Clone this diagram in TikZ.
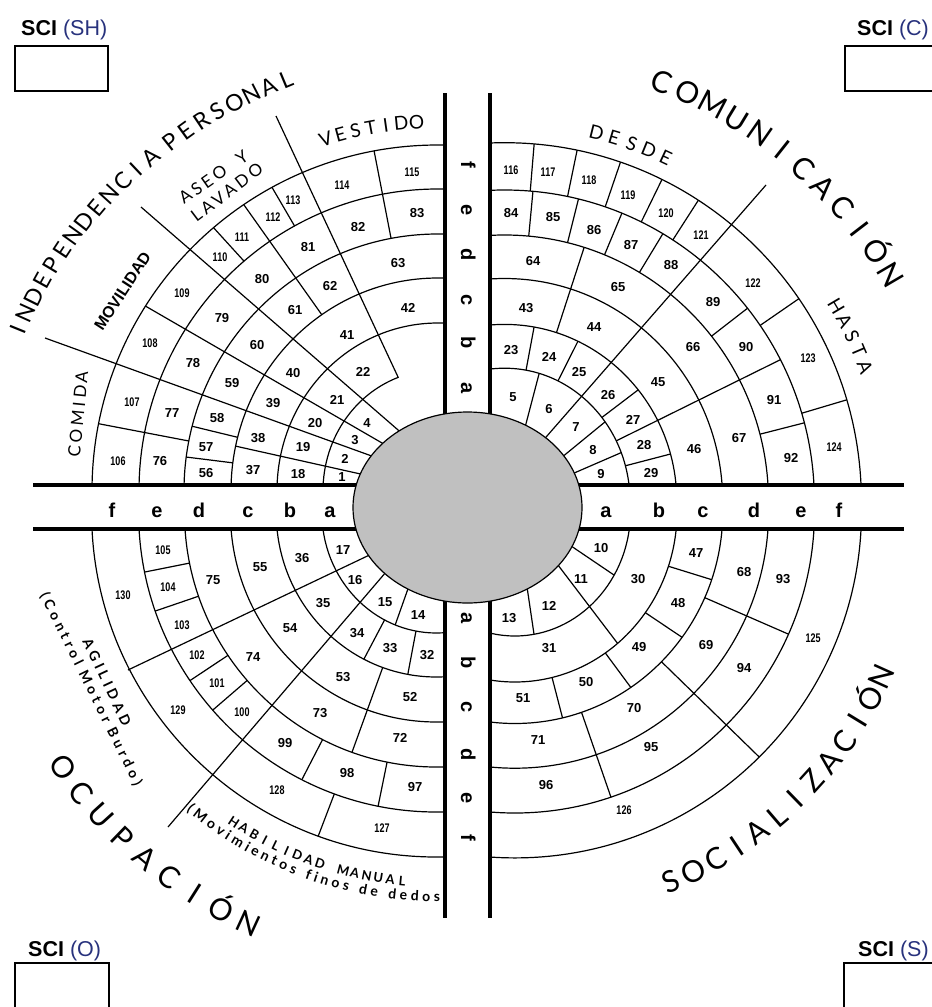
\documentclass[tikz,border=0pt]{standalone}
\usepackage{fontspec}
\usepackage{graphicx}
\setmainfont{Liberation Sans}
\newfontfamily\hfont{Lato}
\newfontfamily\hsp[LetterSpace=20]{Lato}
\newfontfamily\hspb[LetterSpace=30]{Lato}
\usetikzlibrary{decorations.text}
\definecolor{eg}{RGB}{192,192,192}
\definecolor{sciblue}{RGB}{40,50,125}

\newcommand\defarr[2]{%
 \foreach \v [count=\j from 0] in {#2} {\expandafter\xdef\csname #1\j\endcsname{\v}}}

% quadrant centres (image px, y down) and ring radii (index 0 = inner helper)
\def\QXUL{437.9}\def\QYUL{490.9}
\defarr{AXUL}{82,114.9,160.9,206.9,253.9,298.9,345.9}
\defarr{AYUL}{88,121,167.9,212.9,256.9,301.9,345.9}
\def\QXUR{504.5}\def\QYUR{501.6}
\defarr{AXUR}{80,125.5,172.3,218.2,264,309.9,356.9}
\defarr{AYUR}{87,133.4,177.2,223.1,266.6,311.6,358.9}
\def\QXLL{436.4}\def\QYLL{512.3}
\defarr{AXLL}{82,114.5,160.2,206,251.9,297.8,344.8}
\defarr{AYLL}{88,120.7,164.7,209.7,254.7,299.7,344.7}
\def\QXLR{514.9}\def\QYLR{511}
\defarr{AXLR}{68,115.6,162.2,207.9,253.7,299.6,346.6}
\defarr{AYLR}{77,125,171,212.5,257.2,302,346.9}

% divider: quadrant, px x, px y (a point on it), inner ring, outer ring
\newcommand\dv[5]{%
 \edef\rxa{\csname AX#1#4\endcsname}\edef\rya{\csname AY#1#4\endcsname}%
 \edef\rxb{\csname AX#1#5\endcsname}\edef\ryb{\csname AY#1#5\endcsname}%
 \edef\cqx{\csname QX#1\endcsname}\edef\cqy{\csname QY#1\endcsname}%
 \pgfmathsetmacro\dvT{atan2((\cqy-(#3))/((\rya+\ryb)/2),((#2)-\cqx)/((\rxa+\rxb)/2))}%
 \ifnum#4=0 \def\rxa{45}\def\rya{45}\fi
 \pgfmathsetmacro\dvXa{\cqx+\rxa*cos(\dvT)}%
 \pgfmathsetmacro\dvYa{-\cqy+\rya*sin(\dvT)}%
 \pgfmathsetmacro\dvXb{\cqx+\rxb*cos(\dvT)}%
 \pgfmathsetmacro\dvYb{-\cqy+\ryb*sin(\dvT)}%
 \draw[ln] (\dvXa,\dvYa) -- (\dvXb,\dvYb);%
}

\newcommand\rings[2]{%
 \edef\cqx{\csname QX#1\endcsname}\edef\cqy{\csname QY#1\endcsname}%
 \foreach \k in {#2,...,6} {%
  \edef\rgX{\csname AX#1\k\endcsname}%
  \edef\rgY{\csname AY#1\k\endcsname}%
  \draw[ln] (\cqx,-\cqy) ellipse [x radius=\rgX, y radius=\rgY];%
 }}

% letters on an arc: cx, cy (px), a, b, start angle, step, rotation offset, style, list
\newcommand\arcl[9]{%
 \foreach \ch [count=\i from 0] in {#9} {%
  \pgfmathsetmacro\alT{#5+\i*(#6)}%
  \pgfmathsetmacro\alR{\alT+(#7)}%
  \pgfmathsetmacro\alX{#1+#3*cos(\alT)}%
  \pgfmathsetmacro\alY{-#2+#4*sin(\alT)}%
  \node[#8, rotate=\alR] (#8\i) at (\alX,\alY) {\ch};%
 }}

\newcommand\nm[3]{\node[n2] (n#3) at (#1,-#2) {#3};}
\newcommand\nmm[3]{\node[n3] (n#3) at (#1,-#2) {\scalebox{0.72}[1]{#3}};}

\begin{document}
\begin{tikzpicture}[x=1pt,y=1pt,
 ln/.style={line width=1.2pt},
 band/.style={line width=3.2pt},
 bx/.style={line width=1.5pt},
 n2/.style={font=\bfseries\fontsize{13}{13}\selectfont, inner sep=0},
 n3/.style={font=\bfseries\fontsize{12.5}{12.5}\selectfont, inner sep=0},
 bl/.style={font=\bfseries\fontsize{20}{20}\selectfont, inner sep=0, anchor=base},
 blv/.style={bl, rotate=-90},
 sci/.style={anchor=base west, inner sep=0, font=\fontsize{21.5}{21.5}\selectfont},
 Tbig/.style={font=\hfont\fontsize{30}{30}\selectfont, inner sep=0, text height=21.5pt, text depth=0pt},
 Tind/.style={font=\hfont\fontsize{23}{23}\selectfont, inner sep=0, text height=16.5pt, text depth=0pt},
 Tsm/.style={font=\hfont\fontsize{19}{19}\selectfont, inner sep=0, text height=13.7pt, text depth=0pt},
 Thab/.style={font=\hfont\bfseries\fontsize{13}{13}\selectfont, inner sep=0, text height=9.4pt, text depth=0pt},
 lab/.style={inner sep=0}]
\useasboundingbox (0,0) rectangle (932,-1007);
\clip (0,0) rectangle (932,-1007);
\fill[white] (0,0) rectangle (932,-1007);

% ---------- ring arcs ----------
\begin{scope}
 \clip (0,0) rectangle (445,-485);
 \rings{UL}{2}
 \draw[ln] ({437.9+114.9*cos(110.2)},{-490.9+121*sin(110.2)}) arc[start angle=110.2, end angle=185, x radius=114.9, y radius=121];
\end{scope}
\begin{scope}
 \clip (490,0) rectangle (932,-485);
 \rings{UR}{1}
\end{scope}
\begin{scope}
 \clip (0,-529) rectangle (445,-1007);
 \rings{LL}{1}
\end{scope}
\begin{scope}
 \clip (490,-529) rectangle (932,-1007);
 \rings{LR}{1}
\end{scope}

% ---------- dividers: upper left ----------
\dv{UL}{300}{460}{0}{3}
\dv{UL}{210}{460}{3}{4}
\dv{UL}{212}{431}{3}{4}
\dv{UL}{285}{263}{3}{6}
\dv{UL}{142}{432}{4}{6}
\dv{UL}{383}{197}{4}{6}
\dv{UL}{231}{247}{5}{6}
\dv{UL}{284}{208}{5}{6}
\draw[ln] (380,-459) -- (45,-338);
\draw[ln] (390,-447.6) -- (145.5,-306.1);
\draw[ln] (405,-436) -- (141,-207);
\draw[ln] (276,-116) -- (398.4,-377.8);

% ---------- dividers: upper right ----------
\dv{UR}{532}{399}{0}{1}
\dv{UR}{584}{438}{0}{1}
\dv{UR}{598}{462}{0}{1}
\dv{UR}{530}{349}{1}{2}
\dv{UR}{568}{361}{1}{2}
\dv{UR}{622}{402}{1}{2}
\dv{UR}{651}{459}{1}{2}
\dv{UR}{695}{402}{1}{5}
\dv{UR}{570}{291}{2}{4}
\dv{UR}{531}{212}{4}{5}
\dv{UR}{572}{225}{4}{5}
\dv{UR}{612}{237}{4}{5}
\dv{UR}{650}{255}{4}{5}
\dv{UR}{731}{321}{4}{5}
\dv{UR}{784}{428}{4}{5}
\dv{UR}{532}{170}{5}{6}
\dv{UR}{572}{175}{5}{6}
\dv{UR}{612}{187}{5}{6}
\dv{UR}{651}{202}{5}{6}
\dv{UR}{685}{221}{5}{6}
\dv{UR}{781}{311}{5}{6}
\dv{UR}{826}{406}{5}{6}
\draw[ln] (540,-444) -- (766,-185);

% ---------- dividers: lower right ----------
\dv{LR}{594}{563}{0}{1}
\dv{LR}{530}{610}{0}{1}
\dv{LR}{587}{606}{0}{2}
\dv{LR}{693}{574}{2}{3}
\dv{LR}{665}{626}{2}{3}
\dv{LR}{616}{667}{2}{3}
\dv{LR}{556}{692}{2}{3}
\dv{LR}{749}{617}{3}{5}
\dv{LR}{708}{707}{3}{6}
\dv{LR}{595}{751}{3}{5}

% ---------- dividers: lower left ----------
\dv{LL}{402}{607}{0}{1}
\dv{LL}{412}{652}{1}{2}
\dv{LL}{374}{640}{1}{2}
\dv{LL}{368}{708}{2}{4}
\dv{LL}{383}{782}{4}{5}
\dv{LL}{310}{764}{4}{5}
\dv{LL}{228}{697}{4}{5}
\dv{LL}{206}{670}{4}{5}
\dv{LL}{173}{605}{4}{5}
\dv{LL}{165}{568}{4}{5}
\dv{LL}{327}{813}{5}{6}
\draw[ln] (392,-565) -- (168,-827);
\draw[ln] (380,-550) -- (128,-670);

% ---------- bands ----------
\draw[band] (33,-485) -- (420,-485);
\draw[band] (520,-485) -- (904,-485);
\draw[band] (33,-529) -- (420,-529);
\draw[band] (520,-529) -- (904,-529);
\draw[band] (445,-93) -- (445,-460);
\draw[band] (445,-560) -- (445,-918);
\draw[band] (490,-93) -- (490,-460);
\draw[band] (490,-560) -- (490,-918);

% ---------- centre ----------
\draw[ln, fill=eg] (467.5,-507.5) ellipse [x radius=114.5, y radius=95.5];

% ---------- band letters ----------
\node[bl] (hlf) at (112,-517) {f};
\node[bl] (hle) at (157,-517) {e};
\node[bl] (hld) at (199,-517) {d};
\node[bl] (hlc) at (248,-517) {c};
\node[bl] (hlb) at (290,-517) {b};
\node[bl] (hla) at (330,-517) {a};
\node[bl] (hra) at (606,-517) {a};
\node[bl] (hrb) at (659,-517) {b};
\node[bl] (hrc) at (703,-517) {c};
\node[bl] (hrd) at (754,-517) {d};
\node[bl] (hre) at (801,-517) {e};
\node[bl] (hrf) at (839,-517) {f};
\node[blv] (vuf) at (461,-165) {f};
\node[blv] (vue) at (461,-210) {e};
\node[blv] (vud) at (461,-255) {d};
\node[blv] (vuc) at (461,-300) {c};
\node[blv] (vub) at (461,-343) {b};
\node[blv] (vua) at (461,-388) {a};
\node[blv] (vla) at (461,-618) {a};
\node[blv] (vlb) at (461,-663) {b};
\node[blv] (vlc) at (461,-707) {c};
\node[blv] (vld) at (461,-755) {d};
\node[blv] (vle) at (461,-798) {e};
\node[blv] (vlf) at (461,-838) {f};

% ---------- numbers UL ----------
\nm{342}{477}{1} \nm{345}{459}{2} \nm{355}{440}{3} \nm{367}{423}{4}
\nm{298}{474}{18} \nm{303}{447}{19} \nm{315}{423}{20} \nm{337}{400}{21} \nm{363}{372}{22}
\nm{253}{470}{37} \nm{258}{438}{38} \nm{273}{403}{39} \nm{293}{373}{40} \nm{347}{335}{41} \nm{408}{308}{42}
\nm{206}{473}{56} \nm{206}{447}{57} \nm{217}{418}{58} \nm{232}{383}{59} \nm{257}{345}{60} \nm{295}{310}{61} \nm{330}{286}{62} \nm{398}{263}{63}
\nm{160}{461}{76} \nm{172}{413}{77} \nm{193}{363}{78} \nm{222}{318}{79} \nm{262}{279}{80} \nm{308}{247}{81} \nm{358}{227}{82} \nm{417}{213}{83}
\nmm{118}{461}{106} \nmm{132}{402}{107} \nmm{150}{343}{108} \nmm{182}{293}{109} \nmm{220}{257}{110} \nmm{242}{237}{111} \nmm{273}{217}{112} \nmm{293}{200}{113} \nmm{342}{185}{114} \nmm{412}{172}{115}
% ---------- numbers UR ----------
\nm{513}{397}{5} \nm{549}{409}{6} \nm{576}{427}{7} \nm{593}{450}{8} \nm{601}{474}{9}
\nm{511}{350}{23} \nm{549}{357}{24} \nm{579}{372}{25} \nm{608}{395}{26} \nm{633}{420}{27} \nm{644}{445}{28} \nm{651}{473}{29}
\nm{526}{308}{43} \nm{594}{327}{44} \nm{658}{382}{45} \nm{694}{449}{46}
\nm{533}{261}{64} \nm{618}{287}{65} \nm{693}{347}{66} \nm{739}{438}{67}
\nm{511}{213}{84} \nm{553}{217}{85} \nm{594}{230}{86} \nm{631}{245}{87} \nm{671}{265}{88} \nm{713}{302}{89} \nm{746}{347}{90} \nm{774}{400}{91} \nm{791}{458}{92}
\nmm{511}{170}{116} \nmm{548}{172}{117} \nmm{589}{180}{118} \nmm{628}{195}{119} \nmm{666}{213}{120} \nmm{701}{235}{121} \nmm{753}{283}{122} \nmm{808}{358}{123} \nmm{834}{447}{124}
% ---------- numbers LR ----------
\nm{601}{548}{10} \nm{581}{579}{11} \nm{549}{606}{12} \nm{509}{618}{13}
\nm{638}{579}{30} \nm{549}{648}{31}
\nm{696}{553}{47} \nm{678}{603}{48} \nm{639}{647}{49} \nm{586}{682}{50} \nm{523}{698}{51}
\nm{744}{572}{68} \nm{706}{645}{69} \nm{634}{708}{70} \nm{538}{740}{71}
\nm{783}{579}{93} \nm{744}{668}{94} \nm{651}{747}{95} \nm{546}{785}{96}
\nmm{813}{638}{125} \nmm{624}{810}{126}
% ---------- numbers LL ----------
\nm{418}{615}{14} \nm{385}{602}{15} \nm{355}{580}{16} \nm{343}{550}{17}
\nm{427}{655}{32} \nm{390}{648}{33} \nm{357}{633}{34} \nm{323}{603}{35} \nm{302}{558}{36}
\nm{410}{697}{52} \nm{343}{677}{53} \nm{290}{628}{54} \nm{260}{567}{55}
\nm{400}{738}{72} \nm{320}{713}{73} \nm{253}{657}{74} \nm{213}{580}{75}
\nm{415}{787}{97} \nm{347}{773}{98} \nm{285}{743}{99} \nmm{242}{712}{100} \nmm{217}{683}{101} \nmm{197}{655}{102} \nmm{182}{625}{103} \nmm{168}{587}{104} \nmm{163}{550}{105}
\nmm{382}{828}{127} \nmm{277}{790}{128} \nmm{178}{710}{129} \nmm{123}{595}{130}

% ---------- curved headings ----------
\arcl{504.5}{501.6}{448}{448}{69.4}{-3.545}{-90}{Tbig}{C,O,M,U,N,I,C,A,C,I,Ó,N}
\arcl{436.4}{512.3}{452}{452}{214.4}{3.875}{90}{Tbig}{O,C,U,P,A,C,I,Ó,N}
\arcl{514.9}{511}{402}{402}{292.8}{3.575}{90}{Tbig}{S,O,C,I,A,L,I,Z,A,C,I,Ó,N}
\arcl{476.5}{501}{495}{457}{157.9}{-2.226}{-90}{Tind}{I,N,D,E,P,E,N,D,E,N,C,I,A}
\arcl{476.5}{501}{495}{457}{128.2}{-2.226}{-90}{Tind}{P,E,R,S,O,N,A,L}
\arcl{504.5}{501.6}{380}{380}{76}{-2.775}{-90}{Tsm}{D,E,S,D,E}
\arcl{504.5}{501.6}{385}{385}{30.5}{-2.5}{-90}{Tsm}{H,A,S,T,A}
\arcl{437.9}{490.9}{369.5}{369.5}{107.7}{-2.4}{-90}{Tsm}{V,E,S,T,I,D,O}
\arcl{436.4}{512.3}{370}{370}{236.8}{1.86}{90}{Thab}{H,A,B,I,L,I,D,A,D,{},M,A,N,U,A,L}
\path[decorate, decoration={text along path, text align={fit to path},
  text={|\hfont\bfseries\fontsize{14}{14}\selectfont|(Movimientos finos de dedos)}}]
  ({436.4+389*cos(230)},{-512.3+389*sin(230)}) arc[start angle=230, end angle=271.6, radius=389];

% ---------- straight labels ----------
\node[lab, rotate=57, font=\bfseries\fontsize{16}{16}\selectfont] (movil) at (122.5,-291) {MOVILIDAD};
\node[lab, rotate=84.4, font=\hsp\fontsize{17}{17}\selectfont] (comida) at (78,-414) {COMIDA};
\node[lab, rotate=35, font=\hsp\fontsize{17}{17}\selectfont] (aseo) at (213.5,-177) {ASEO\ \ Y};
\node[lab, rotate=37, font=\hsp\fontsize{17}{17}\selectfont] (lavado) at (227,-192.5) {LAVADO};
\node[lab, rotate=-64.9, font=\hspb\bfseries\fontsize{14}{14}\selectfont] (agil) at (107,-682) {AGILIDAD};
\node[lab, rotate=-63.7, font=\hspb\bfseries\fontsize{14}{14}\selectfont] (ctrl) at (91,-689) {(Control\ Motor\ Burdo)};

% ---------- SCI boxes ----------
\node[sci] (sciSH) at (21,-35) {\textbf{SCI} \textcolor{sciblue}{(SH)}};
\node[sci] (sciC) at (857,-35) {\textbf{SCI} \textcolor{sciblue}{(C)}};
\node[sci] (sciO) at (28,-956) {\textbf{SCI} \textcolor{sciblue}{(O)}};
\node[sci] (sciS) at (858,-956) {\textbf{SCI} \textcolor{sciblue}{(S)}};
\draw[bx] (15,-46) rectangle (108,-91);
\draw[bx] (845,-46) rectangle (945,-91);
\draw[bx] (15,-963) rectangle (109,-1020);
\draw[bx] (844,-963) rectangle (945,-1020);
\end{tikzpicture}
\end{document}
